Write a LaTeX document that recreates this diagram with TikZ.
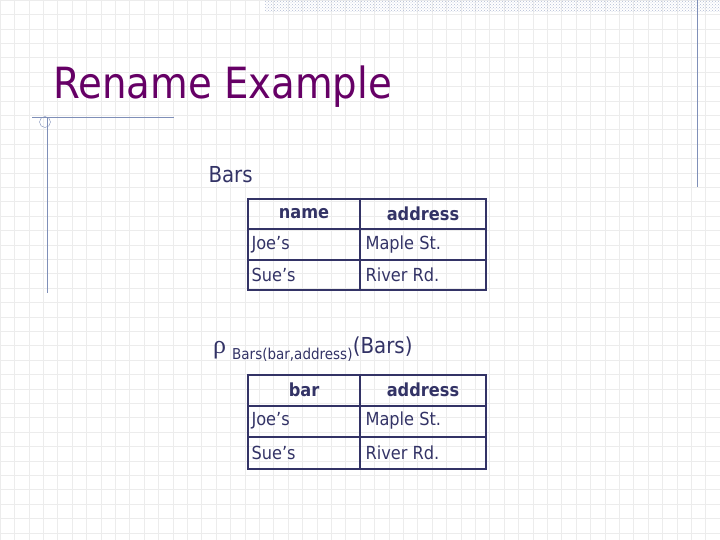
\documentclass[tikz,border=0pt]{standalone}
\usepackage{fontspec}
\setmainfont{DejaVu Sans Condensed}
\newfontfamily\rhofont{Liberation Serif}
\usetikzlibrary{patterns}
\definecolor{titlepurple}{HTML}{660066}
\definecolor{navy}{HTML}{333366}
\definecolor{rulecol}{HTML}{7F8FB8}
\tikzset{
  cell/.style={anchor=west,text=navy,font=\fontsize{18}{21}\selectfont},
  head/.style={anchor=center,text=navy,font=\bfseries\fontsize{18}{21}\selectfont},
  frame/.style={draw=navy,line width=1.8pt}
}
\begin{document}
\begin{tikzpicture}[x=1pt,y=-1pt]
        \useasboundingbox (0,0) rectangle (720,540);
        % background grid
        \foreach \g in {0,14.4,...,720} {\draw[gray!15,line width=0.5pt] (\g,0) -- (\g,540);}
        \foreach \g in {0,14.4,...,540} {\draw[gray!15,line width=0.5pt] (0,\g) -- (720,\g);}
        \fill[pattern=crosshatch dots,pattern color=rulecol!60] (265,0) rectangle (720,12);
        \draw[rulecol] (697,0) -- (697,187);
        \draw[rulecol] (32,117) -- (174,117);
        \draw[rulecol] (47,117) -- (47,293);
        \draw[rulecol] (45,122) circle (5.5);

        \node[anchor=west,text=titlepurple,font=\fontsize{43}{50}\selectfont] (title) at (50,87) {Rename Example};
        \node[anchor=west,text=navy,font=\fontsize{22}{26}\selectfont] (bars) at (205,175) {Bars};

        % first table
        \draw[frame] (248,199) rectangle (486,290);
        \draw[frame] (360,199) -- (360,290);
        \draw[frame] (248,229) -- (486,229) (248,260) -- (486,260);
        \node[head] (h1) at (304,214) {name};
        \node[head] (h2) at (423,214) {address};
        \node[cell] (a1) at (248,245) {Joe’s};
        \node[cell] (b1) at (362,245) {Maple St.};
        \node[cell] (a2) at (248,275) {Sue’s};
        \node[cell] (b2) at (362,275) {River Rd.};

        % rename expression
        \node[anchor=west,text=navy,font=\rhofont\fontsize{26}{30}\selectfont,inner sep=0pt] (rho) at (213,350) {ρ};
        \node[anchor=west,text=navy,font=\fontsize{15}{18}\selectfont,inner sep=0pt] (sub) at (232,355) {Bars(bar,address)};
        \node[anchor=west,text=navy,font=\fontsize{22}{26}\selectfont,inner sep=0pt] (arg) at (sub.east) [yshift=8pt] {(Bars)};

        % second table
        \draw[frame] (248,375) rectangle (486,469);
        \draw[frame] (360,375) -- (360,469);
        \draw[frame] (248,406) -- (486,406) (248,437) -- (486,437);
        \node[head] (k1) at (304,390) {bar};
        \node[head] (k2) at (423,390) {address};
        \node[cell] (c1) at (248,421) {Joe’s};
        \node[cell] (d1) at (362,421) {Maple St.};
        \node[cell] (c2) at (248,453) {Sue’s};
        \node[cell] (d2) at (362,453) {River Rd.};
\end{tikzpicture}
\end{document}
